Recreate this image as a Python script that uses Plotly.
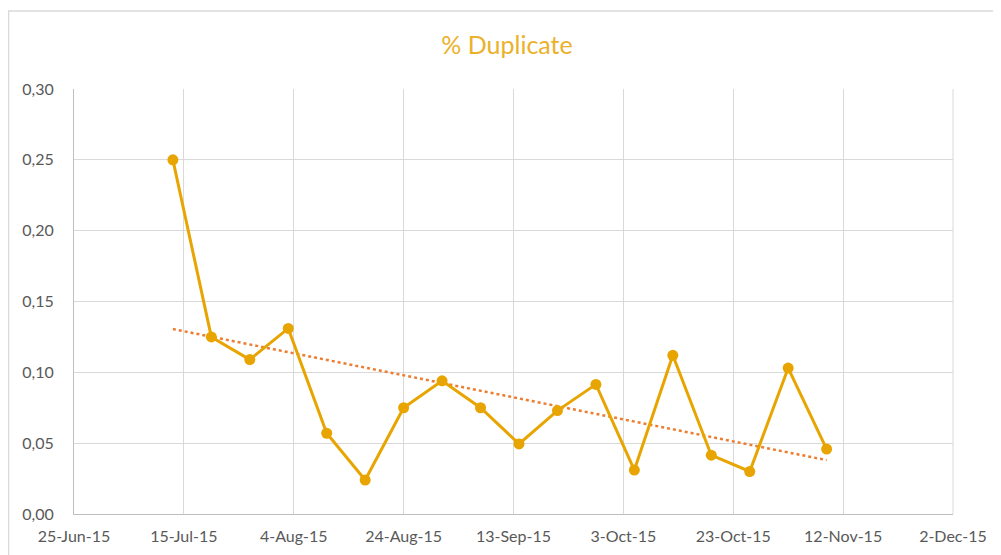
import numpy as np
import pandas as pd
import plotly.graph_objects as go

# Data
dates = ["2015-07-13", "2015-07-20", "2015-07-27", "2015-08-03", "2015-08-10",
         "2015-08-17", "2015-08-24", "2015-08-31", "2015-09-07", "2015-09-14",
         "2015-09-21", "2015-09-28", "2015-10-05", "2015-10-12", "2015-10-19",
         "2015-10-26", "2015-11-02", "2015-11-09"]
dup_pct = [0.250, 0.125, 0.109, 0.131, 0.057, 0.024, 0.075, 0.094, 0.075, 0.0495,
           0.073, 0.0915, 0.031, 0.112, 0.0415, 0.030, 0.103, 0.0458]
title_text = "% Duplicate"

x = pd.to_datetime(dates)
xd = (x - x[0]).days.values.astype(float)
slope, intercept = np.polyfit(xd, np.array(dup_pct), 1)
trend = slope * xd + intercept

LINE = "#E8A502"
TREND = "#ED7D31"
FONT = "Lato, 'Open Sans', sans-serif"

fig = go.Figure()
fig.add_trace(go.Scatter(
    x=[x[0], x[-1]], y=[trend[0], trend[-1]], mode="lines",
    line=dict(color=TREND, width=2.5, dash="dot"), hoverinfo="skip",
    showlegend=False))
fig.add_trace(go.Scatter(
    x=x, y=dup_pct, mode="lines+markers",
    line=dict(color=LINE, width=3),
    marker=dict(color=LINE, size=11), showlegend=False))

fig.update_layout(
    width=1001, height=555,
    margin=dict(l=66, r=56, t=81, b=49),
    paper_bgcolor="white", plot_bgcolor="white",
    separators=",.",
    font=dict(family=FONT, color="#595959", size=16),
    title=dict(text=title_text, x=0.4985, xanchor="center", y=0.9333, yanchor="middle",
               font=dict(family=FONT, size=25, color="#EBB12A")),
    xaxis=dict(
        type="date", range=["2015-06-25", "2015-12-02"],
        tick0="2015-06-25", dtick=20 * 86400000, tickformat="%-d-%b-%y",
        showgrid=True, gridcolor="#D9D9D9", gridwidth=1,
        showline=True, linecolor="#BFBFBF", linewidth=1,
        ticks="", ticklabelstandoff=8, zeroline=False,
        tickfont=dict(size=16, color="#595959"),
    ),
    yaxis=dict(
        range=[0, 0.30], dtick=0.05, tickformat=".2f",
        showgrid=True, gridcolor="#D9D9D9", gridwidth=1,
        showline=True, linecolor="#BFBFBF", linewidth=1,
        ticks="", ticklabelstandoff=16, zeroline=False,
        tickfont=dict(size=16, color="#595959"),
    ),
    shapes=[
        dict(type="line", xref="paper", yref="paper", x0=1, x1=1, y0=0, y1=1,
             line=dict(color="#D9D9D9", width=1), layer="below"),
        dict(type="rect", xref="paper", yref="paper",
             x0=-0.0745, x1=1.07, y0=-0.12, y1=1.1835,
             line=dict(color="#D9D9D9", width=1.5), fillcolor="rgba(0,0,0,0)",
             layer="below"),
    ],
)

fig.write_html("out.html")
